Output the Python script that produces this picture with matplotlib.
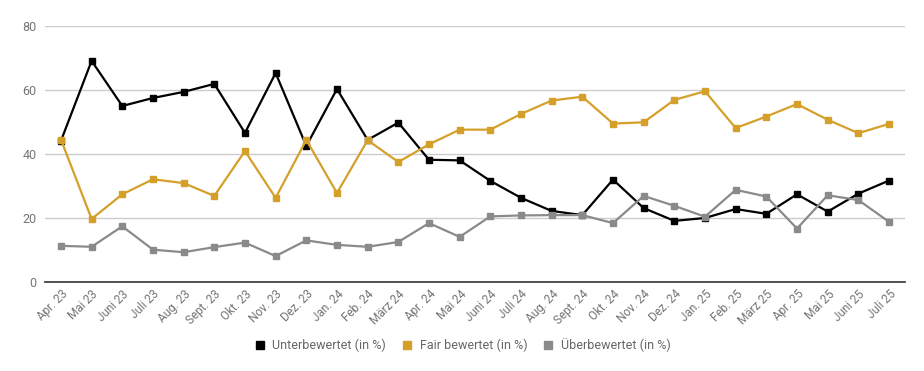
import matplotlib.pyplot as plt
from matplotlib.lines import Line2D

plt.rcParams['font.family'] = ['Roboto', 'DejaVu Sans']

months = ['Apr. 23', 'Mai 23', 'Juni 23', 'Juli 23', 'Aug. 23', 'Sept. 23', 'Okt. 23',
          'Nov. 23', 'Dez. 23', 'Jan. 24', 'Feb. 24', 'März 24', 'Apr. 24', 'Mai 24',
          'Juni 24', 'Juli 24', 'Aug. 24', 'Sept. 24', 'Okt. 24', 'Nov. 24', 'Dez. 24',
          'Jan. 25', 'Feb. 25', 'März 25', 'Apr. 25', 'Mai 25', 'Juni 25', 'Juli 25']

unter = [44.1, 69.1, 55.0, 57.5, 59.4, 61.9, 46.6, 65.3, 42.5, 60.3, 44.4, 49.8, 38.2, 38.0,
         31.6, 26.3, 22.2, 20.9, 32.0, 23.1, 19.1, 20.0, 22.8, 21.3, 27.4, 22.0, 27.6, 31.7]
fair = [44.5, 19.7, 27.4, 32.1, 30.9, 26.9, 40.9, 26.3, 44.4, 27.8, 44.3, 37.5, 43.0, 47.6,
        47.6, 52.5, 56.7, 57.9, 49.5, 49.9, 56.9, 59.6, 48.1, 51.7, 55.6, 50.7, 46.5, 49.4]
ueber = [11.3, 11.0, 17.4, 10.1, 9.3, 10.9, 12.3, 8.1, 13.0, 11.6, 11.0, 12.5, 18.4, 14.1,
         20.5, 20.8, 20.9, 20.9, 18.4, 26.9, 23.8, 20.4, 28.8, 26.7, 16.7, 27.1, 25.6, 18.8]

names = ['Unterbewertet (in %)', 'Fair bewertet (in %)', 'Überbewertet (in %)']
colors = ['#000000', '#D4A02A', '#8A8A8A']

fig = plt.figure(figsize=(9.24, 3.71), dpi=100)
ax = fig.add_axes([0.0487, 0.2399, 0.9307, 0.6901])

x = list(range(len(months)))
# series order: later series drawn on top
for vals, c in zip([unter, fair, ueber], colors):
    ax.plot(x, vals, color=c, lw=1.6, marker='s', markersize=5, zorder=3)

ax.set_xlim(-0.52, len(months) - 1 + 0.52)
ax.set_ylim(0, 80)
ax.set_yticks([0, 20, 40, 60, 80])
ax.grid(axis='y', color='#CCCCCC', lw=1)
ax.set_axisbelow(True)
for s in ['top', 'right', 'left']:
    ax.spines[s].set_visible(False)
ax.spines['bottom'].set_color('#333333')
ax.spines['bottom'].set_linewidth(1.2)
ax.tick_params(axis='y', length=0, labelsize=9, labelcolor='#757575', pad=6)
ax.tick_params(axis='x', length=0, labelsize=8.5, labelcolor='#757575', pad=4)
ax.set_xticks(x)
ax.set_xticklabels(months, rotation=45, ha='right', rotation_mode='anchor')

handles = [Line2D([], [], ls='none', marker='s', markersize=6, color=c) for c in colors]
fig.legend(handles, names, loc='center', bbox_to_anchor=(0.5, 0.07), ncol=3, frameon=False,
           fontsize=9, labelcolor='#666666', handletextpad=0.5, columnspacing=1.2,
           handlelength=1.0)

fig.savefig('out.png', dpi=100)
